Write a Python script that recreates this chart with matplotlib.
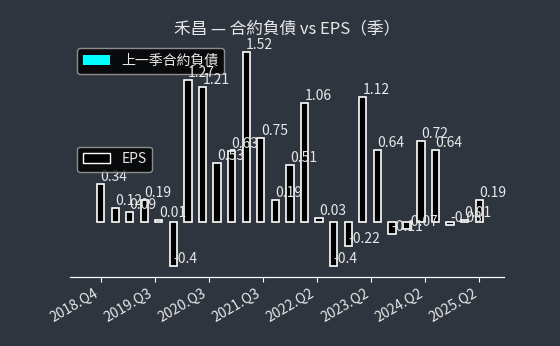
import numpy as np
import matplotlib
matplotlib.use('Agg')
from matplotlib import pyplot as plt
from matplotlib.patches import Patch

plt.rcParams['font.family'] = ['Noto Sans CJK TC', 'DejaVu Sans']

quarters = ['2018.Q4', '2019.Q1', '2019.Q2', '2019.Q3', '2019.Q4',
            '2020.Q1', '2020.Q2', '2020.Q3', '2020.Q4',
            '2021.Q1', '2021.Q2', '2021.Q3', '2021.Q4',
            '2022.Q1', '2022.Q2', '2022.Q3', '2022.Q4',
            '2023.Q1', '2023.Q2', '2023.Q3', '2023.Q4',
            '2024.Q1', '2024.Q2', '2024.Q3', '2024.Q4',
            '2025.Q1', '2025.Q2']
eps = [0.34, 0.12, 0.09, 0.19, 0.01, -0.4, 1.27, 1.21, 0.53, 0.63,
       1.52, 0.75, 0.19, 0.51, 1.06, 0.03, -0.4, -0.22, 1.12, 0.64,
       -0.11, -0.07, 0.72, 0.64, -0.03, 0.01, 0.19]

bg = '#2f353e'
fg = '#e8e8e8'

fig = plt.figure(figsize=(5.6, 3.46), dpi=100, facecolor=bg)
ax = fig.add_subplot(111)
fig.subplots_adjust(left=0.125, right=0.9, top=0.88, bottom=0.2)
ax.set_facecolor(bg)
ax2 = ax.twinx()

x = np.arange(len(eps))
ax2.bar(x, eps, width=0.5, color='black', edgecolor='white', linewidth=1.2)
for xi, v in zip(x, eps):
    ax2.text(xi, v, str(v), ha='left', va='bottom', color=fg, fontsize=10)

ax.set_xlim(-2.1, 27.7)
ax2.set_ylim(-0.496, 1.616)
ax.set_yticks([])
ax2.set_yticks([])

ticks = np.linspace(0, len(eps) - 1, 8)
ax.set_xticks(ticks)
ax.set_xticklabels([quarters[int(t)] for t in ticks], rotation=30, ha='right',
                   color=fg, fontsize=10)
ax.tick_params(axis='x', colors='white', labelcolor=fg, direction='out')

for a in (ax, ax2):
    for s in ('top', 'left', 'right'):
        a.spines[s].set_visible(False)
    a.spines['bottom'].set_color('white')

ax.set_title('禾昌 — 合約負債 vs EPS（季）', color=fg, fontsize=12)

leg1 = ax.legend(handles=[Patch(facecolor='#00ffff', label='上一季合約負債')],
                 loc='upper left', facecolor='black', edgecolor='#aaaaaa',
                 labelcolor=fg, fontsize=10)
leg2 = ax2.legend(handles=[Patch(facecolor='black', edgecolor='white', label='EPS')],
                  loc='center left', facecolor='black', edgecolor='#aaaaaa',
                  labelcolor=fg, fontsize=10)

plt.savefig('out.png', dpi=100, facecolor=bg)
